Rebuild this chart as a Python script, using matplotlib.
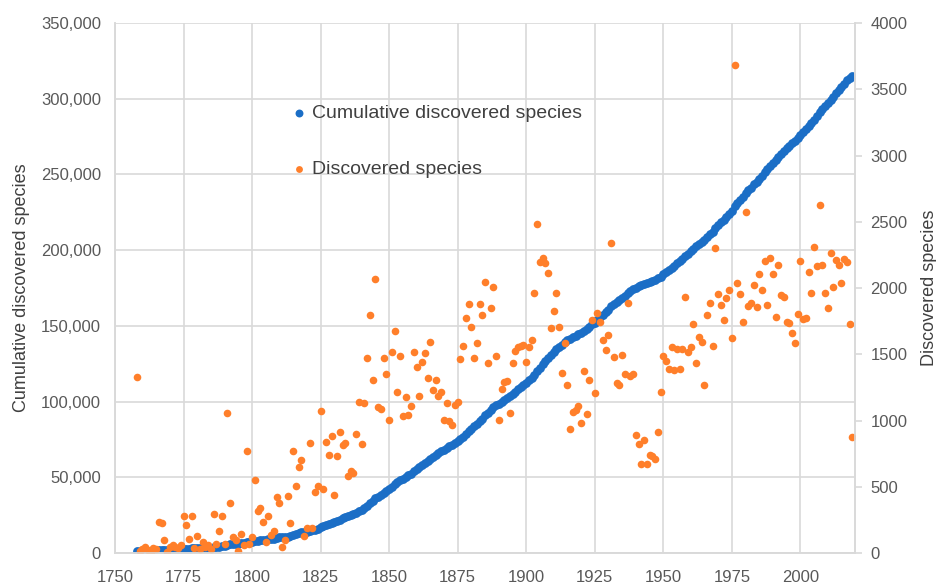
import numpy as np
import matplotlib
matplotlib.use("Agg")
import matplotlib.pyplot as plt
from matplotlib.ticker import FuncFormatter, MultipleLocator

plt.rcParams['font.family'] = ['Liberation Sans', 'DejaVu Sans']

# species described per year, 1758 onwards
first_year = 1758
discovered = [
    1330, 17,
    30, 48, 25, 10, 40, 28, 236, 224, 98, 10,
    48, 60, 48, 40, 60, 280, 210, 106, 280, 35,
    128, 28, 85, 43, 60, 28, 292, 68, 168, 280,
    68, 1055, 380, 118, 98, 17, 140, 60, 772, 70,
    118, 551, 320, 340, 236, 80, 279, 136, 168, 420,
    380, 48, 98, 430, 229, 772, 508, 651, 702, 128,
    186, 832, 186, 458, 508, 1071, 480, 840, 742, 883,
    437, 732, 910, 815, 827, 581, 619, 601, 895, 1142,
    822, 1134, 1469, 1796, 1305, 2065, 1099, 1084, 1474, 1348,
    1003, 1519, 1678, 1217, 1487, 1036, 1180, 1041, 1109, 1514,
    1406, 1187, 1444, 1512, 1318, 1595, 1230, 1305, 1185, 1217,
    1003, 1129, 998, 966, 1114, 1142, 1464, 1565, 1776, 1877,
    1708, 1469, 1582, 1877, 1796, 2043, 1436, 1846, 2005, 1487,
    1004, 1235, 1293, 1298, 1054, 1436, 1524, 1557, 1565, 1570,
    1444, 1557, 1607, 1965, 2483, 2199, 2224, 2186, 2116, 1695,
    1826, 1965, 1703, 1356, 1587, 1268, 933, 1066, 1079, 1113,
    983, 1376, 1050, 1305, 1758, 1210, 1815, 1746, 1607, 1535,
    1645, 2337, 1478, 1280, 1268, 1494, 1350, 1884, 1337, 1348,
    890, 820, 670, 853, 670, 736, 730, 710, 912, 1215,
    1484, 1452, 1386, 1557, 1380, 1537, 1386, 1537, 1934, 1519,
    1557, 1726, 1436, 1627, 1595, 1268, 1796, 1884, 1564, 2304,
    1955, 1874, 1758, 1922, 1985, 1625, 3683, 2035, 1955, 1746,
    2573, 1864, 1889, 2022, 1854, 2103, 1985, 2204, 1872, 2224,
    2106, 1783, 2173, 1947, 1929, 1746, 1738, 1658, 1587, 1803,
    2206, 1763, 1776, 2123, 1964, 2307, 2166, 2626, 2173, 1964,
    1846, 2266, 2005, 2211, 2173, 2035, 2216, 2193, 1725, 873,
]
years = np.arange(first_year, first_year + len(discovered))
cumulative = np.cumsum(discovered)

blue = '#1b6ec6'
orange = '#ff7f2a'
grey = '#d9d9d9'
text_col = '#595959'

fig = plt.figure(figsize=(9.37, 5.87), dpi=100)
ax = fig.add_axes([0.1227, 0.0579, 0.79, 0.9029])
ax2 = ax.twinx()

h1 = ax.scatter(years, cumulative, s=40, color=blue, linewidths=0,
                label='Cumulative discovered species')
h2 = ax2.scatter(years, discovered, s=30, color=orange, linewidths=0,
                 label='Discovered species')

ax.set_xlim(1750, 2020)
ax.set_ylim(0, 350000)
ax2.set_ylim(0, 4000)
ax.xaxis.set_major_locator(MultipleLocator(25))
ax.yaxis.set_major_locator(MultipleLocator(50000))
ax2.yaxis.set_major_locator(MultipleLocator(500))
ax.yaxis.set_major_formatter(FuncFormatter(lambda v, p: f'{int(v):,}'))

ax.grid(True, color=grey, linewidth=1.2)
ax.set_axisbelow(True)
for a in (ax, ax2):
    for s in a.spines.values():
        s.set_color(grey)
        s.set_linewidth(1.2)
    a.spines['top'].set_visible(False)

ax.tick_params(axis='x', length=0, labelsize=12, colors=text_col, pad=12)
ax.tick_params(axis='y', length=0, labelsize=12, colors=text_col, pad=10)
ax2.tick_params(axis='y', length=5, width=1.2, color=grey, labelsize=12,
                labelcolor=text_col, pad=6)

ax.set_ylabel('Cumulative discovered species', fontsize=13, color='#404040', labelpad=8)
ax2.set_ylabel('Discovered species', fontsize=13, color='#404040', labelpad=10)

ax2.legend(handles=[h1, h2], loc='upper left', bbox_to_anchor=(0.215, 0.88),
           frameon=False, fontsize=14, labelspacing=2.0, handlelength=0.8,
           handletextpad=0.25, markerscale=0.9, labelcolor='#404040')

fig.savefig('out.png', dpi=100)
